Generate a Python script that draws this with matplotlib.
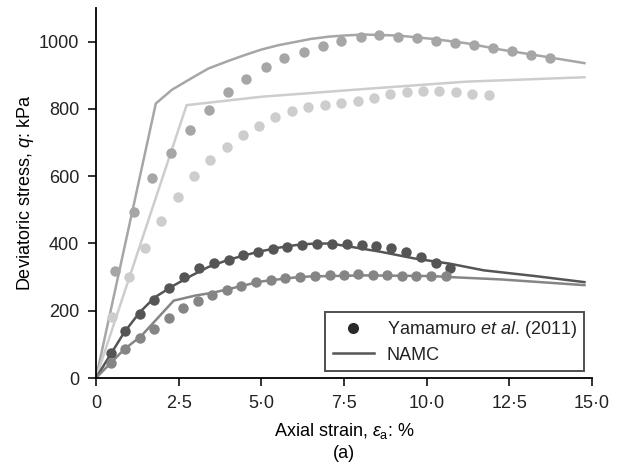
import matplotlib
matplotlib.use("Agg")
import matplotlib.pyplot as plt

plt.rcParams.update({
    "font.family": "Liberation Sans",
    "font.size": 13,
    "mathtext.fontset": "custom",
    "mathtext.rm": "Liberation Sans",
    "mathtext.it": "Liberation Sans:italic",
    "axes.linewidth": 1.3,
    "xtick.major.width": 1.3,
    "ytick.major.width": 1.3,
    "xtick.major.size": 6,
    "ytick.major.size": 6,
    "text.color": "#222222",
    "xtick.color": "#222222",
    "ytick.color": "#222222",
})

# measured points (Yamamuro et al. 2011)
x_hi = [0.58, 1.14, 1.70, 2.27, 2.84, 3.41, 4.00, 4.55, 5.13, 5.70, 6.28, 6.85, 7.42,
        8.00, 8.57, 9.14, 9.71, 10.29, 10.86, 11.44, 12.01, 12.59, 13.16, 13.73]
q_hi = [317, 492, 595, 669, 738, 798, 849, 889, 924, 951, 969, 988, 1002,
        1015, 1020, 1015, 1010, 1003, 997, 991, 982, 973, 961, 950]

x_lt = [0.49, 0.99, 1.48, 1.97, 2.47, 2.95, 3.45, 3.95, 4.45, 4.93, 5.42, 5.93, 6.42,
        6.92, 7.41, 7.91, 8.40, 8.90, 9.40, 9.89, 10.38, 10.88, 11.37, 11.87]
q_lt = [182, 300, 387, 467, 538, 600, 649, 688, 722, 750, 775, 793, 805,
        811, 817, 823, 832, 844, 850, 854, 854, 850, 845, 840]

x_dk = [0.44, 0.87, 1.33, 1.76, 2.22, 2.66, 3.12, 3.56, 4.01, 4.45, 4.89, 5.34, 5.79,
        6.24, 6.68, 7.14, 7.59, 8.03, 8.48, 8.93, 9.38, 9.82, 10.28, 10.72]
q_dk = [75, 139, 189, 233, 269, 301, 326, 342, 352, 367, 374, 382, 389,
        395, 398, 398, 398, 395, 392, 387, 375, 359, 342, 327]

x_md = [0.44, 0.87, 1.33, 1.76, 2.22, 2.63, 3.08, 3.52, 3.96, 4.39, 4.84, 5.28, 5.73,
        6.18, 6.62, 7.07, 7.49, 7.93, 8.37, 8.81, 9.24, 9.68, 10.12, 10.57]
q_md = [45, 87, 120, 147, 177, 207, 229, 247, 261, 273, 285, 292, 298,
        301, 303, 305, 307, 309, 307, 305, 303, 303, 303, 303]

# NAMC model curves
lx_hi = [0, 1.81, 2.30, 2.92, 3.40, 3.96, 4.50, 4.99, 5.50, 6.03, 6.50, 7.07, 7.50,
         8.10, 9.14, 10.18, 11.21, 12.25, 13.28, 14.77]
lq_hi = [0, 816, 857, 893, 920, 941, 960, 976, 989, 999, 1008, 1015, 1018,
         1021, 1018, 1008, 995, 976, 960, 936]

lx_lt = [0, 2.74, 4.99, 8.10, 11.21, 14.77]
lq_lt = [0, 811, 836, 859, 881, 894]

lx_dk = [0, 0.85, 1.32, 1.78, 2.35, 2.90, 3.40, 3.96, 4.50, 5.00, 5.50, 6.03, 6.50,
         7.07, 7.59, 8.62, 9.65, 10.69, 11.73, 13.28, 14.77]
lq_dk = [0, 135, 195, 240, 275, 305, 330, 350, 365, 377, 387, 395, 399,
         400, 392, 375, 355, 340, 320, 303, 285]

lx_md = [0, 0.85, 1.37, 2.35, 3.00, 3.50, 3.96, 4.50, 5.00, 5.50, 6.03, 6.50, 7.07,
         8.10, 10.18, 10.69, 12.25, 14.77]
lq_md = [0, 85, 125, 230, 245, 253, 263, 276, 287, 293, 299, 302, 303,
         305, 303, 300, 293, 276]

series = [
    (x_hi, q_hi, lx_hi, lq_hi, "#a6a6a9"),
    (x_lt, q_lt, lx_lt, lq_lt, "#cdcdcd"),
    (x_dk, q_dk, lx_dk, lq_dk, "#555555"),
    (x_md, q_md, lx_md, lq_md, "#858585"),
]

fig = plt.figure(figsize=(6.18, 4.68), dpi=100)
ax = fig.add_axes([0.1553, 0.1923, 0.8027, 0.7907])

for xs, qs, lx, lq, c in series:
    ax.plot(lx, lq, color=c, lw=1.8, zorder=2)
    ax.plot(xs, qs, "o", color=c, ms=7.5, mec="none", zorder=3)

ax.set_xlim(0, 15)
ax.set_ylim(0, 1100)
ax.set_xticks([0, 2.5, 5, 7.5, 10, 12.5, 15])
ax.set_xticklabels(["0", "2·5", "5·0", "7·5", "10·0", "12·5", "15·0"])
ax.set_yticks([0, 200, 400, 600, 800, 1000])
ax.spines["top"].set_visible(False)
ax.spines["right"].set_visible(False)
ax.tick_params(pad=6)

ax.set_xlabel("Axial strain, $\\varepsilon_{\\mathrm{a}}$: %\n(a)", linespacing=1.3, labelpad=6.5)
ax.set_ylabel("Deviatoric stress, $q$: kPa", labelpad=2)

h_pt, = ax.plot([], [], "o", color="#2a2a2a", ms=8, mec="none")
h_ln, = ax.plot([], [], "-", color="#555555", lw=1.8)
leg = ax.legend([h_pt, h_ln], ["Yamamuro $et\\ al$. (2011)", "NAMC"],
                loc="lower right", bbox_to_anchor=(0.984, 0.019),
                frameon=True, fancybox=False, edgecolor="#222222",
                handlelength=2.3, handletextpad=0.7, borderpad=0.4,
                labelspacing=0.35, borderaxespad=0)
leg.get_frame().set_linewidth(1.4)

fig.savefig("out.png", dpi=100)
